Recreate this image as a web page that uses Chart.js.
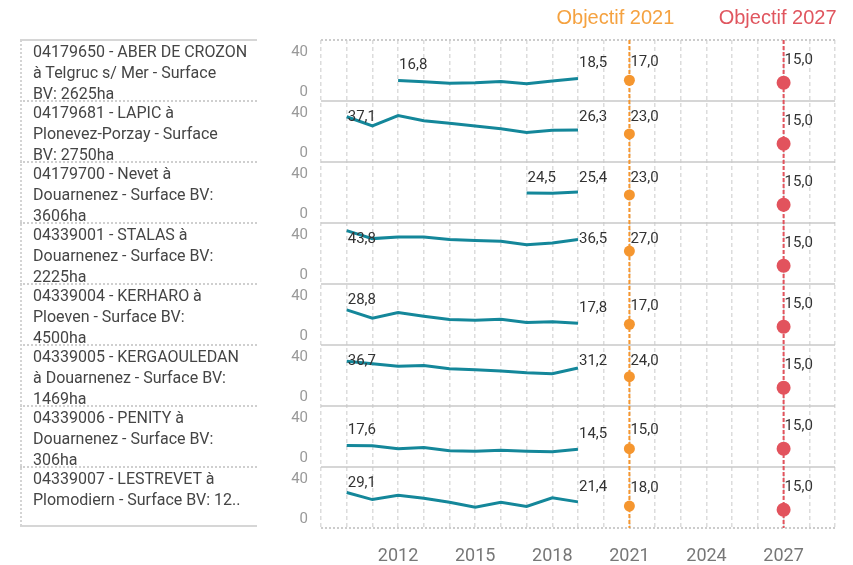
<!DOCTYPE html>
<html>
<head>
<meta charset="utf-8">
<script src="https://cdn.jsdelivr.net/npm/chart.js@4.4.1/dist/chart.umd.min.js"></script>
<style>
  html, body { margin: 0; padding: 0; background: #fff; }
  #wrap { position: relative; width: 853px; height: 565px; overflow: hidden; }
  #chart { position: absolute; left: 0; top: 0; }
  .station { position: absolute; left: 22px; width: 233px; height: 60px; overflow: hidden;
    padding: 1px 0 0 11px; box-sizing: border-box; font: 16px Roboto, sans-serif; line-height: 21px;
    color: #454545; white-space: nowrap; }
  .hline { position: absolute; left: 20px; width: 237px; height: 0; }
  .vline { position: absolute; left: 20px; top: 40px; width: 0; height: 486px; border-left: 2px dotted #d4d4d4; }
</style>
</head>
<body>
<div id="wrap">
  <canvas id="chart" width="853" height="565"></canvas>
  <div id="panel"></div>
</div>
<script>
const years = [2010, 2011, 2012, 2013, 2014, 2015, 2016, 2017, 2018, 2019];
const yearLabels = [2012, 2015, 2018, 2021, 2024, 2027];

const stations = [
  ["04179650 - ABER DE CROZON", "à Telgruc s/ Mer - Surface", "BV: 2625ha"],
  ["04179681 - LAPIC à", "Plonevez-Porzay - Surface", "BV: 2750ha"],
  ["04179700 - Nevet à", "Douarnenez - Surface BV:", "3606ha"],
  ["04339001 - STALAS à", "Douarnenez - Surface BV:", "2225ha"],
  ["04339004 - KERHARO à", "Ploeven - Surface BV:", "4500ha"],
  ["04339005 - KERGAOULEDAN", "à Douarnenez - Surface BV:", "1469ha"],
  ["04339006 - PENITY à", "Douarnenez - Surface BV:", "306ha"],
  ["04339007 - LESTREVET à", "Plomodiern - Surface BV: 12.."]
];

const aberCrozon   = [null, null, 16.8, 15.8, 14.6, 15.0, 16.0, 14.1, 16.3, 18.5];
const lapic        = [37.1, 29.6, 38.0, 33.9, 31.7, 29.6, 27.2, 24.2, 26.0, 26.3];
const nevet        = [null, null, null, null, null, null, null, 24.5, 24.3, 25.4];
const stalas       = [43.8, 37.2, 38.6, 38.6, 36.4, 35.6, 35.1, 32.1, 33.7, 36.5];
const kerharo      = [28.8, 22.0, 26.6, 23.6, 20.9, 20.3, 21.1, 18.5, 19.0, 17.8];
const kergaouledan = [36.7, 34.6, 32.5, 33.2, 30.6, 29.8, 28.7, 27.3, 26.5, 31.2];
const penity       = [17.6, 17.4, 14.9, 16.0, 13.3, 13.0, 13.8, 13.0, 12.5, 14.5];
const lestrevet    = [29.1, 23.3, 26.8, 24.4, 21.1, 17.1, 21.1, 17.6, 24.7, 21.4];
const series = [aberCrozon, lapic, nevet, stalas, kerharo, kergaouledan, penity, lestrevet];

const objectif2021 = [17.0, 23.0, 23.0, 27.0, 17.0, 24.0, 15.0, 18.0];
const objectif2027 = [15.0, 15.0, 15.0, 15.0, 15.0, 15.0, 15.0, 15.0];
const yTicks = [0, 40];

const TEAL = "#14879a";
const ORANGE = "#f5962f";
const RED = "#e2535d";
const ROW_TOP = 40, ROW_H = 61;

// left panel with station names
const panel = document.getElementById("panel");
stations.forEach((lines, i) => {
  const div = document.createElement("div");
  div.className = "station";
  div.style.top = (ROW_TOP + i * ROW_H) + "px";
  div.innerHTML = lines.join("<br>");
  panel.appendChild(div);
  if (i > 0) {
    const sep = document.createElement("div");
    sep.className = "hline";
    sep.style.top = (ROW_TOP + i * ROW_H - 1) + "px";
    sep.style.borderTop = "2px dotted #cfcfcf";
    panel.appendChild(sep);
  }
});
[[ROW_TOP - 1, "2px solid #d6d6d6"], [ROW_TOP + 8 * ROW_H - 3, "2px solid #d6d6d6"]].forEach(([top, b]) => {
  const d = document.createElement("div");
  d.className = "hline";
  d.style.top = top + "px";
  d.style.borderTop = b;
  panel.appendChild(d);
});
const vl = document.createElement("div");
vl.className = "vline";
panel.appendChild(vl);

const fmt = (v) => v.toFixed(1).replace(".", ",");

const datasets = [];
series.forEach((vals, i) => {
  const first = vals.findIndex((v) => v !== null);
  datasets.push({
    data: years.map((y, k) => ({ x: y, y: vals[k] })),
    yAxisID: "y" + i, borderColor: TEAL, borderWidth: 3, pointRadius: 0, tension: 0,
    labelIdx: [first, vals.length - 1], labelOff: 15,
  });
  datasets.push({
    data: [{ x: 2021, y: objectif2021[i] }],
    yAxisID: "y" + i, showLine: false, pointRadius: 5.5, pointBorderWidth: 0,
    pointBackgroundColor: ORANGE, labelIdx: [0], labelOff: 18,
  });
  datasets.push({
    data: [{ x: 2027, y: objectif2027[i] }],
    yAxisID: "y" + i, showLine: false, pointRadius: 7, pointBorderWidth: 0,
    pointBackgroundColor: RED, labelIdx: [0], labelOff: 22,
  });
});

const scales = {
  x: {
    type: "linear", min: 2009, max: 2029,
    grid: { color: "#dcdcdc", lineWidth: 1.5, drawTicks: false },
    border: { display: false, dash: [4, 3] },
    ticks: {
      stepSize: 1, autoSkip: false, maxRotation: 0, minRotation: 0, padding: 18, color: "#777",
      font: { family: "Roboto", size: 18 },
      callback: (v) => (yearLabels.includes(v) ? String(v) : ""),
    },
    afterFit: (s) => { s.height = 37; },
  },
};
// stacked axes are placed bottom-up in definition order, so define the last row first
for (let i = series.length - 1; i >= 0; i--) {
  scales["y" + i] = {
    type: "linear", position: "left", stack: "rows", stackWeight: 1,
    min: 0, max: 50,
    grid: { display: false, drawTicks: false },
    border: { display: false },
    afterBuildTicks: (s) => { s.ticks = yTicks.map((v) => ({ value: v })); },
    ticks: {
      autoSkip: false, padding: 13, color: "#999", font: { family: "Roboto", size: 15 },
      callback: (v) => (v === 0 ? ["0", ""] : String(v)),
    },
    afterFit: (s) => { s.width = 61; },
  };
}

function hline(ctx, x1, x2, y, color, width, dash) {
  ctx.beginPath();
  ctx.setLineDash(dash);
  ctx.strokeStyle = color;
  ctx.lineWidth = width;
  ctx.moveTo(x1, y);
  ctx.lineTo(x2, y);
  ctx.stroke();
}

const overlay = {
  id: "overlay",
  beforeDatasetsDraw(chart) {
    const { ctx, chartArea: a, scales: sc } = chart;
    ctx.save();
    hline(ctx, a.left, a.right, a.top, "#cccccc", 2, [2, 2]);
    hline(ctx, a.left, a.right, a.bottom, "#cccccc", 2, [2, 2]);
    for (let i = 1; i < series.length; i++) {
      hline(ctx, a.left, a.right, sc["y" + i].top, "#c8c8c8", 1.5, []);
    }
    [[2021, ORANGE], [2027, RED]].forEach(([yr, c]) => {
      const x = sc.x.getPixelForValue(yr);
      ctx.beginPath();
      ctx.setLineDash([4, 2]);
      ctx.strokeStyle = c;
      ctx.lineWidth = 2;
      ctx.moveTo(x, a.top);
      ctx.lineTo(x, a.bottom);
      ctx.stroke();
    });
    ctx.restore();
  },
  afterDatasetsDraw(chart) {
    const { ctx, scales: sc } = chart;
    ctx.save();
    ctx.font = "15px Roboto";
    ctx.fillStyle = "#333";
    ctx.textAlign = "left";
    ctx.textBaseline = "middle";
    chart.data.datasets.forEach((ds, di) => {
      const meta = chart.getDatasetMeta(di);
      const top = sc[ds.yAxisID].top;
      ds.labelIdx.forEach((k) => {
        const el = meta.data[k];
        const y = Math.max(el.y - ds.labelOff, top + 16);
        ctx.fillText(fmt(ds.data[k].y), el.x + 1, y);
      });
    });
    // objective headers
    ctx.font = "20px 'Liberation Sans'";
    ctx.textAlign = "center";
    ctx.fillStyle = "#f5a240";
    ctx.fillText("Objectif 2021", sc.x.getPixelForValue(2021) - 14, 18);
    ctx.fillStyle = "#e0565f";
    ctx.fillText("Objectif 2027", sc.x.getPixelForValue(2027) - 6, 18);
    ctx.restore();
  },
};

new Chart(document.getElementById("chart"), {
  type: "line",
  data: { datasets },
  options: {
    responsive: false, animation: false,
    layout: { padding: { left: 260, right: 15, top: 40, bottom: 0 } },
    plugins: { legend: { display: false }, tooltip: { enabled: false } },
    scales,
  },
  plugins: [overlay],
});
</script>
</body>
</html>
